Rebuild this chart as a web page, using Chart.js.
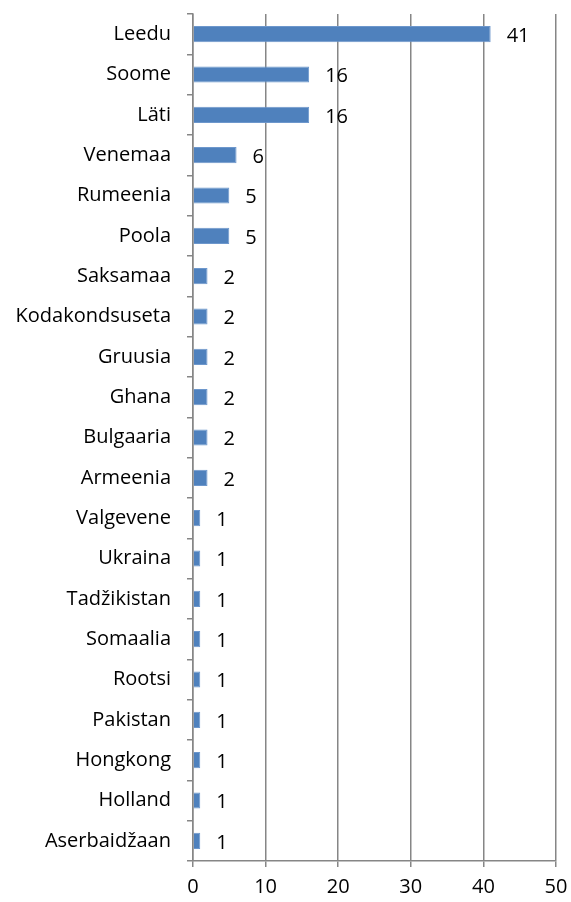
<!DOCTYPE html>
<html>
<head>
<meta charset="utf-8">
<script src="https://cdn.jsdelivr.net/npm/chart.js@4"></script>
<style>
  html, body { margin: 0; padding: 0; background: #fff; }
  #wrap { width: 571px; height: 902px; }
</style>
</head>
<body>
<div id="wrap"><canvas id="countryChart" width="571" height="902"></canvas></div>
<script>
const countries = ['Leedu', 'Soome', 'Läti', 'Venemaa', 'Rumeenia', 'Poola', 'Saksamaa',
  'Kodakondsuseta', 'Gruusia', 'Ghana', 'Bulgaaria', 'Armeenia', 'Valgevene', 'Ukraina',
  'Tadžikistan', 'Somaalia', 'Rootsi', 'Pakistan', 'Hongkong', 'Holland', 'Aserbaidžaan'];
const counts = [41, 16, 16, 6, 5, 5, 2, 2, 2, 2, 2, 2, 1, 1, 1, 1, 1, 1, 1, 1, 1];
const xTicks = [0, 10, 20, 30, 40, 50];

const gridGrey = '#868686';
const fontFam = "'Open Sans', 'DejaVu Sans', sans-serif";

// value labels to the right of each bar
const barLabels = {
  id: 'barLabels',
  afterDatasetsDraw(chart) {
    const ctx = chart.ctx;
    const meta = chart.getDatasetMeta(0);
    ctx.save();
    ctx.font = '20px ' + fontFam;
    ctx.fillStyle = '#000';
    ctx.textAlign = 'left';
    ctx.textBaseline = 'middle';
    meta.data.forEach((bar, i) => {
      ctx.fillText(String(counts[i]), bar.x + 16, bar.y + 2);
    });
    ctx.restore();
  }
};

new Chart(document.getElementById('countryChart'), {
  type: 'bar',
  data: {
    labels: countries,
    datasets: [{
      data: counts,
      backgroundColor: '#4f81bd',
      borderColor: '#6d97cc',
      borderWidth: 1,
      barPercentage: 0.8,
      categoryPercentage: 0.5
    }]
  },
  plugins: [barLabels],
  options: {
    indexAxis: 'y',
    responsive: false,
    animation: false,
    layout: { padding: { top: 14, right: 15, left: 0, bottom: 0 } },
    plugins: {
      legend: { display: false },
      tooltip: { enabled: false }
    },
    scales: {
      x: {
        min: 0,
        max: 50,
        afterBuildTicks(scale) {
          scale.ticks = xTicks.map(v => ({ value: v }));
        },
        afterFit(scale) {
          scale.height = 41;
          scale.paddingLeft = 0;
          scale.paddingRight = 0;
        },
        grid: { color: gridGrey, lineWidth: 1.5, tickLength: 6, drawTicks: true },
        border: { display: true, color: gridGrey, width: 1.5 },
        ticks: { color: '#000', font: { size: 20, family: fontFam }, padding: 8 }
      },
      y: {
        afterFit(scale) {
          scale.width = 193;
          scale.paddingTop = 0;
          scale.paddingBottom = 0;
        },
        grid: { drawOnChartArea: false, drawTicks: true, tickLength: 6, offset: true, color: gridGrey, lineWidth: 1.5 },
        border: { display: true, color: gridGrey, width: 1.5 },
        ticks: { color: '#000', font: { size: 20, family: fontFam }, padding: 16, autoSkip: false }
      }
    }
  }
});
</script>
</body>
</html>
